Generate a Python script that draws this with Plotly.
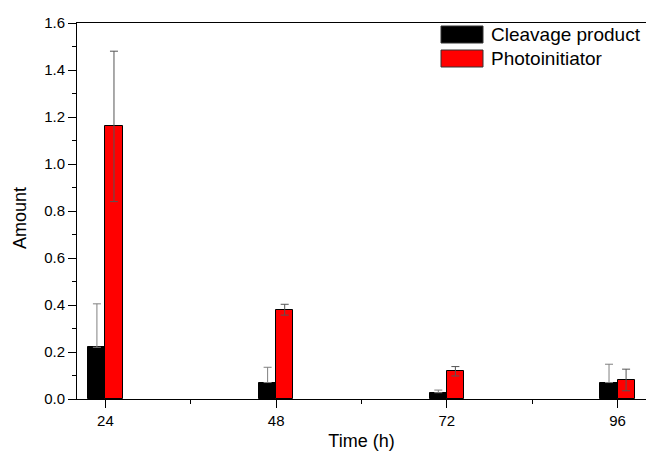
import plotly.graph_objects as go

times = [24, 48, 72, 96]
cleavage = [0.22, 0.07, 0.027, 0.07]
cleavage_err = [0.185, 0.065, 0.011, 0.078]
photo = [1.16, 0.38, 0.118, 0.081]
photo_err = [0.32, 0.023, 0.02, 0.046]
series_names = ["Cleavage product", "Photoinitiator"]
colors = ["#000000", "#ff0000"]

FONT = "Liberation Sans, Arial, sans-serif"
bw = 2.4

fig = go.Figure()
fig.add_trace(go.Bar(
    x=times, y=cleavage, width=bw, offset=-bw, name=series_names[0],
    marker=dict(color=colors[0], line=dict(color="black", width=1)),
    error_y=dict(type="data", symmetric=False, array=cleavage_err,
                 arrayminus=[0 for _ in cleavage_err],
                 color="#808080", thickness=1, width=4),
    showlegend=False))
fig.add_trace(go.Bar(
    x=times, y=photo, width=bw, offset=0, name=series_names[1],
    marker=dict(color=colors[1], line=dict(color="black", width=1)),
    error_y=dict(type="data", array=photo_err, color="#555555", thickness=1, width=4),
    showlegend=False))

# manual legend
x0, x1, xt = (441-77)/569, (483-77)/569, (489-77)/569
rows = [(26, 43), (50, 67)]
for (ya, yb), name, c in zip(rows, series_names, colors):
    fig.add_shape(type="rect", xref="paper", yref="paper",
                  x0=x0, x1=x1, y0=(399-yb)/376, y1=(399-ya)/376,
                  fillcolor=c, line=dict(color="#333333", width=1))
    fig.add_annotation(xref="paper", yref="paper", x=xt, y=(399-(ya+yb)/2)/376,
                       text=name, showarrow=False, xanchor="left", yanchor="middle",
                       font=dict(family=FONT, size=19, color="black"))

# y-axis title
fig.add_annotation(xref="paper", yref="paper", x=(20-77)/569, y=(399-218)/376,
                   text="Amount", textangle=-90, showarrow=False,
                   xanchor="center", yanchor="middle",
                   font=dict(family=FONT, size=18, color="black"))

fig.update_layout(
    width=646, height=455,
    margin=dict(l=77, r=0, t=23, b=56),
    paper_bgcolor="white", plot_bgcolor="white",
    font=dict(family=FONT, size=15, color="black"),
    bargap=0,
)
fig.update_xaxes(
    range=[20, 100], tickvals=times, ticktext=[str(t) for t in times],
    ticks="outside", ticklen=8, tickwidth=1, tickcolor="black",
    minor=dict(tickvals=[36, 60, 84], ticks="outside", ticklen=4, tickcolor="black"),
    showline=True, linecolor="black", linewidth=1, mirror=True,
    showgrid=False, zeroline=False,
    title=dict(text="Time (h)", font=dict(size=18), standoff=6),
    tickfont=dict(size=15),
)
fig.update_yaxes(
    range=[0, 1.6], dtick=0.2, tickformat=".1f",
    ticks="outside", ticklen=8, tickwidth=1, tickcolor="black",
    minor=dict(dtick=0.1, ticks="outside", ticklen=4, tickcolor="black"),
    showline=True, linecolor="black", linewidth=1, mirror=True,
    showgrid=False, zeroline=False,
    tickfont=dict(size=15),
)

fig.write_html("out.html")
